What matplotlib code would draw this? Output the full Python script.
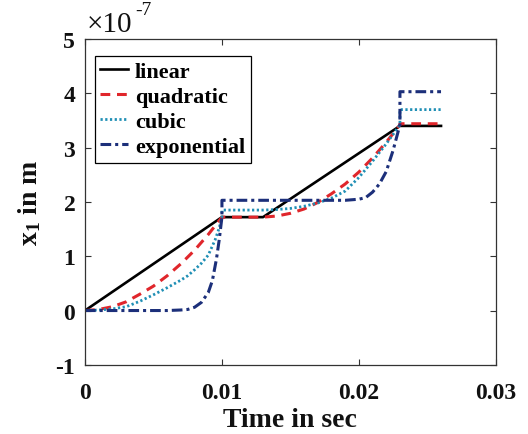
import matplotlib
matplotlib.use("Agg")
import matplotlib.pyplot as plt

# values, x1 in units of 1e-7 m
t_lin = [0, 0.010, 0.013, 0.023, 0.026]
x_lin = [0, 1.72, 1.72, 3.40, 3.40]

t_quad = [0, 0.001, 0.002, 0.003, 0.004, 0.005, 0.006, 0.007, 0.008, 0.009, 0.010,
          0.013, 0.014, 0.015, 0.016, 0.017, 0.018, 0.019, 0.020, 0.021, 0.022, 0.023,
          0.023, 0.026]
x_quad = [0, 0.02, 0.07, 0.16, 0.30, 0.45, 0.64, 0.86, 1.11, 1.40, 1.72,
          1.72, 1.74, 1.79, 1.87, 1.99, 2.15, 2.33, 2.55, 2.81, 3.10, 3.42,
          3.44, 3.44]

t_cub = [0, 0.001, 0.002, 0.003, 0.004, 0.005, 0.006, 0.007, 0.0075, 0.008, 0.0085,
         0.009, 0.0095, 0.0098, 0.010,
         0.010, 0.013, 0.014, 0.015, 0.016, 0.017, 0.018, 0.019, 0.020, 0.021, 0.022, 0.023,
         0.023, 0.026]
x_cub = [0, 0.01, 0.03, 0.07, 0.17, 0.29, 0.42, 0.56, 0.64, 0.75, 0.87,
         1.02, 1.30, 1.52, 1.72,
         1.85, 1.85, 1.86, 1.88, 1.92, 1.98, 2.07, 2.20, 2.45, 2.75, 3.07, 3.42,
         3.70, 3.70]

t_exp = [0, 0.002, 0.004, 0.006, 0.007, 0.0075, 0.008, 0.0085, 0.009, 0.0093, 0.0096,
         0.0098, 0.010,
         0.010, 0.013, 0.016, 0.019, 0.020, 0.0205, 0.021, 0.0215, 0.022, 0.0225, 0.023,
         0.023, 0.026]
x_exp = [0, 0, 0, 0, 0.01, 0.02, 0.06, 0.15, 0.33, 0.55, 0.95,
         1.30, 1.72,
         2.03, 2.03, 2.03, 2.03, 2.05, 2.08, 2.18, 2.33, 2.56, 2.95, 3.42,
         4.03, 4.03]

x_ticks = [0, 0.01, 0.02, 0.03]
x_ticklabels = ['0', '0.01', '0.02', '0.03']
y_ticks = [-1, 0, 1, 2, 3, 4, 5]

series = [
    (t_lin, x_lin, 'linear', dict(color='black', ls='-', lw=1.9)),
    (t_quad, x_quad, 'quadratic', dict(color='#e0262b', ls=(0, (3.2, 2.2)), lw=2.2)),
    (t_cub, x_cub, 'cubic', dict(color='#1f8fb5', ls=(0, (0.8, 0.9)), lw=2.0)),
    (t_exp, x_exp, 'exponential', dict(color='#1c2f7a', ls=(0, (3.5, 1.3, 1.0, 1.3)), lw=2.2)),
]

plt.rcParams['font.family'] = ['Liberation Serif', 'DejaVu Serif']
plt.rcParams['font.weight'] = 'bold'
plt.rcParams['axes.unicode_minus'] = False
plt.rcParams['mathtext.fontset'] = 'custom'
plt.rcParams['mathtext.rm'] = 'Liberation Serif:bold'
plt.rcParams['mathtext.bf'] = 'Liberation Serif:bold'

fig = plt.figure(figsize=(5.28, 4.35), dpi=100, facecolor='w')
ax = fig.add_axes([0.161, 0.159, 0.778, 0.749])

for tt, xx, label, style in series:
    ax.plot(tt, xx, label=label, **style)

ax.set_xlim(0, 0.03)
ax.set_ylim(-1, 5)
ax.set_xticks(x_ticks)
ax.set_xticklabels(x_ticklabels)
ax.set_yticks(y_ticks)
ax.set_yticklabels([str(v) for v in y_ticks])

ax.tick_params(direction='in', length=4, width=0.8, labelsize=17, top=True, right=True,
               colors='#333333', labelcolor='#111111')
ax.tick_params(axis='x', pad=12)
ax.tick_params(axis='y', pad=7)
for spine in ax.spines.values():
    spine.set_color('#333333')
    spine.set_linewidth(0.9)

# scale factor drawn like MATLAB's exponent label
ax.text(0.005, 1.025, '\u00d710', transform=ax.transAxes, fontsize=21,
        fontweight='normal', ha='left', va='baseline', color='#111111')
ax.text(0.122, 1.077, '-7', transform=ax.transAxes, fontsize=14,
        fontweight='normal', ha='left', va='baseline', color='#111111')

ax.set_xlabel('Time in sec', fontsize=20, fontweight='bold', color='#111111', labelpad=3)
ax.set_ylabel(r'$\mathbf{x_1}$ in m', fontsize=20, fontweight='bold', color='#111111', labelpad=9)

legend = ax.legend(loc='upper left', bbox_to_anchor=(0.024, 0.948), borderaxespad=0,
                   fancybox=False, edgecolor='black', fontsize=16, handlelength=1.25,
                   handletextpad=0.3, borderpad=0.25, labelspacing=0.2)
legend.get_frame().set_linewidth(0.9)
legend.get_frame().set_alpha(1)

plt.savefig('out.png', dpi=100)
